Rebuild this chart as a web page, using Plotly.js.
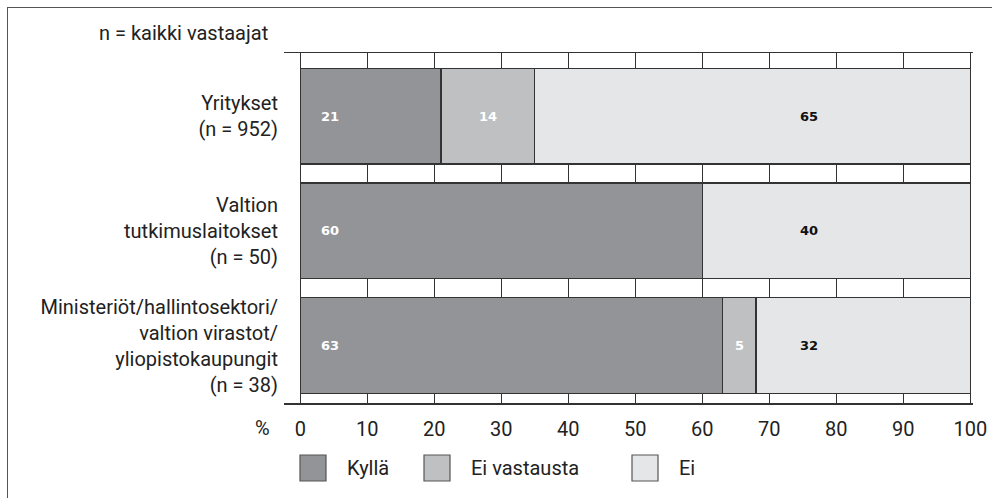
<!DOCTYPE html>
<html>
<head>
<meta charset="utf-8">
<script src="https://cdn.plot.ly/plotly-3.0.1.min.js"></script>
<style>
  html, body { margin: 0; padding: 0; background: #fff; }
  #chart { position: absolute; left: 0; top: 0; width: 992px; height: 498px; }
  #frame { position: absolute; left: 7px; top: 7px; width: 1000px; height: 520px;
           border-left: 1.5px solid #555; border-top: 1.5px solid #555; pointer-events: none; }
</style>
</head>
<body>
<div id="chart"></div>
<div id="frame"></div>
<script>
// ---- data ----
const categories = [
  "Yritykset<br>(n = 952)",
  "Valtion<br>tutkimuslaitokset<br>(n = 50)",
  "Ministeriöt/hallintosektori/<br>valtion virastot/<br>yliopistokaupungit<br>(n = 38)"
];
const seriesNames = ["Kyllä", "Ei vastausta", "Ei"];
const kylla = [21, 60, 63];
const eiVastausta = [14, 0, 5];
const ei = [65, 40, 32];
const xTicks = [0, 10, 20, 30, 40, 50, 60, 70, 80, 90, 100];

// ---- style ----
const colors = ["#939497", "#bfc0c2", "#e5e6e8"];
const labelColors = ["#ffffff", "#ffffff", "#111111"];
const FONT = "'Roboto', sans-serif";
const FS = 20;
const LABELFONT = "'DejaVu Sans', sans-serif";

const values = [kylla, eiVastausta, ei];
const traces = values.map((v, i) => ({
  type: "bar",
  orientation: "h",
  name: seriesNames[i],
  y: categories,
  x: v,
  width: 0.835,
  marker: { color: colors[i], line: { color: "#333", width: 1.3 } },
  hoverinfo: "x+name",
  showlegend: false
}));

// value labels
const annotations = [];
categories.forEach((c, j) => {
  let start = 0;
  values.forEach((v, i) => {
    const val = v[j];
    if (val > 0) {
      let xPos;
      if (i === 0) xPos = 4.4;
      else if (i === 2) xPos = 75.9;
      else xPos = start + val / 2;
      annotations.push({
        x: xPos, y: c, xref: "x", yref: "y", text: String(val), showarrow: false,
        font: { family: LABELFONT, size: 13, color: labelColors[i], weight: "bold" },
        xanchor: "center", yanchor: "middle"
      });
    }
    start += val;
  });
});

// pixel helpers for paper positions (plot area: x 284..973, y 53..403)
const px = x => (x - 284) / 689;
const py = y => (403 - y) / 350;

annotations.push({
  x: px(270), y: py(33), xref: "paper", yref: "paper", text: "n = kaikki vastaajat",
  showarrow: false, xanchor: "right", yanchor: "middle",
  font: { family: FONT, size: FS, color: "#222" }
});
annotations.push({
  x: px(262), y: py(428), xref: "paper", yref: "paper", text: "%",
  showarrow: false, xanchor: "center", yanchor: "middle",
  font: { family: FONT, size: FS, color: "#222" }
});

// legend
const shapes = [];
const legendBoxes = [[300, 345], [424, 469], [632, 677]];
seriesNames.forEach((n, i) => {
  const [bx, tx] = legendBoxes[i];
  shapes.push({
    type: "rect", xref: "paper", yref: "paper",
    x0: px(bx), x1: px(bx + 26), y0: py(455), y1: py(481),
    fillcolor: colors[i], line: { color: "#555", width: 1.2 }
  });
  annotations.push({
    x: px(tx), y: py(468), xref: "paper", yref: "paper", text: n,
    showarrow: false, xanchor: "left", yanchor: "middle",
    font: { family: FONT, size: FS, color: "#222" }
  });
});

const layout = {
  width: 992, height: 498,
  margin: { l: 284, r: 19, t: 53, b: 95, pad: 0 },
  paper_bgcolor: "#fff", plot_bgcolor: "#fff",
  barmode: "stack",
  showlegend: false,
  xaxis: {
    range: [-2.43, 100.4],
    tickvals: xTicks,
    ticktext: xTicks.map(String),
    showgrid: true, gridcolor: "#333", gridwidth: 1,
    zeroline: true, zerolinecolor: "#333", zerolinewidth: 1,
    showline: true, linecolor: "#333", linewidth: 1.5, mirror: true,
    ticks: "", ticklabelstandoff: 7,
    tickfont: { family: FONT, size: FS, color: "#222" },
    fixedrange: true
  },
  yaxis: {
    type: "category",
    range: [2.5, -0.55],
    showgrid: false, zeroline: false, showline: false,
    ticks: "", ticklabelstandoff: 5,
    tickfont: { family: FONT, size: FS, color: "#222" },
    fixedrange: true
  },
  annotations: annotations,
  shapes: shapes
};

Plotly.newPlot("chart", traces, layout, { displayModeBar: false, staticPlot: true });
</script>
</body>
</html>
